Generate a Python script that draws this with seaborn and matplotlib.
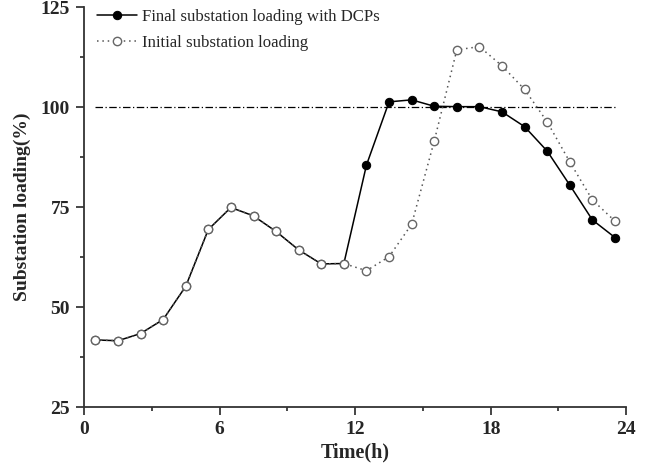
import numpy as np
import pandas as pd
import seaborn as sns
import matplotlib.pyplot as plt
from matplotlib.ticker import MultipleLocator

# Datos
hours = np.arange(0.5, 24, 1.0)
initial_loading = [41.8, 41.6, 43.4, 46.9, 55.2, 69.4, 74.9, 72.8, 68.9, 64.3, 60.8, 60.9,
                   59.1, 62.6, 70.7, 91.5, 114.3, 115.1, 110.3, 104.4, 96.3, 86.3, 76.8, 71.5]
final_loading = [41.8, 41.6, 43.4, 46.9, 55.2, 69.4, 74.9, 72.8, 68.9, 64.3, 60.8, 60.9,
                 85.5, 101.3, 101.8, 100.2, 100.1, 100.1, 98.8, 95.1, 89.0, 80.5, 71.8, 67.4]
limit = 100

df = pd.DataFrame({'hour': hours, 'initial': initial_loading, 'final': final_loading})

sns.set_style('ticks')
plt.rcParams['font.family'] = ['Liberation Serif', 'DejaVu Serif']

fig = plt.figure(figsize=(6.62, 4.68), dpi=100)
ax = fig.add_axes([0.127, 0.130, 0.819, 0.855])

ax.plot([hours[0], hours[-1]], [limit, limit], color='black', lw=0.9,
        linestyle=(0, (6, 2, 1, 2)))

sns.lineplot(data=df, x='hour', y='final', ax=ax, color='black', lw=1.1,
             marker='o', markersize=6, markerfacecolor='black', markeredgecolor='black',
             label='Final substation loading with DCPs')
sns.lineplot(data=df, x='hour', y='initial', ax=ax, color='#555555', lw=1.1,
             linestyle=(0, (1, 2.5)), marker='o', markersize=6,
             markerfacecolor='white', markeredgecolor='#666666', markeredgewidth=1.0,
             label='Initial substation loading')

ax.set_xlim(0, 24)
ax.set_ylim(25, 125)
ax.xaxis.set_major_locator(MultipleLocator(6))
ax.xaxis.set_minor_locator(MultipleLocator(3))
ax.yaxis.set_major_locator(MultipleLocator(25))
ax.yaxis.set_minor_locator(MultipleLocator(12.5))
ax.tick_params(which='major', direction='out', length=6, width=1.2, labelsize=14, pad=4)
ax.tick_params(which='minor', direction='out', length=3, width=1.2)
for lbl in ax.get_xticklabels() + ax.get_yticklabels():
    lbl.set_fontweight('bold')

for side in ['top', 'right']:
    ax.spines[side].set_visible(False)
for side in ['left', 'bottom']:
    ax.spines[side].set_linewidth(1.3)
    ax.spines[side].set_color('#333333')

ax.set_xlabel('Time(h)', fontsize=14.5, fontweight='bold', labelpad=3)
ax.set_ylabel('Substation loading(%)', fontsize=14, fontweight='bold', labelpad=7)

ax.legend(loc='upper left', frameon=False, fontsize=12.1, handlelength=2.4,
          handletextpad=0.3, borderaxespad=0.2, labelspacing=0.6,
          bbox_to_anchor=(0.005, 1.02))

plt.savefig('out.png', dpi=100)
plt.close()
